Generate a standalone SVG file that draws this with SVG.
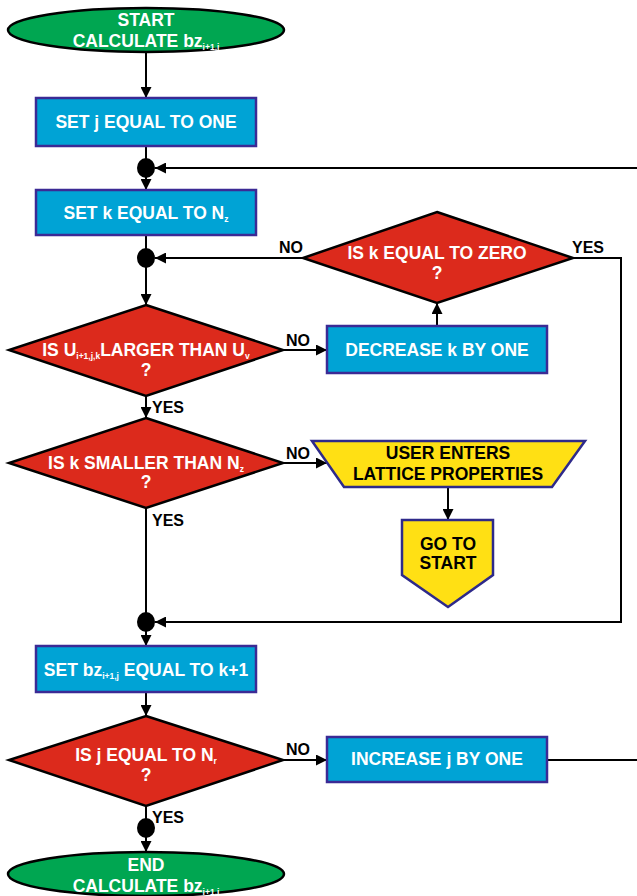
<svg xmlns="http://www.w3.org/2000/svg" width="637" height="896" viewBox="0 0 637 896">
  <defs>
    <marker id="arrow" viewBox="0 0 10 10" refX="10" refY="5" markerWidth="11" markerHeight="11" markerUnits="userSpaceOnUse" orient="auto">
      <path d="M0,0 L10,5 L0,10 z" fill="#000"/>
    </marker>
    <style>
      .term { fill: #00a651; stroke: #000; stroke-width: 2.5; }
      .proc { fill: #00a3d5; stroke: #3b2a95; stroke-width: 2.5; }
      .dec { fill: #dc2a1c; stroke: #000; stroke-width: 2.5; }
      .io { fill: #ffe014; stroke: #2e2a8a; stroke-width: 2.5; }
      .dot { fill: #000; }
      .wt { font-family: "Liberation Sans", Arial, sans-serif; font-weight: bold; font-size: 17.5px; fill: #fff; text-anchor: middle; }
      .bt { font-family: "Liberation Sans", Arial, sans-serif; font-weight: bold; font-size: 17.5px; fill: #000; text-anchor: middle; }
      .lbl { font-family: "Liberation Sans", Arial, sans-serif; font-weight: bold; font-size: 16px; fill: #000; }
      .sub { font-size: 8.5px; }
      .wire { fill: none; stroke: #000; stroke-width: 2; }
      .arr { fill: none; stroke: #000; stroke-width: 2; marker-end: url(#arrow); }
    </style>
  </defs>

  <!-- connectors -->
  <g id="connectors">
    <line class="arr" x1="146" y1="52" x2="146" y2="98"/>
    <line class="wire" x1="146" y1="146" x2="146" y2="160"/>
    <line class="arr" x1="637" y1="168" x2="155" y2="168"/>
    <line class="arr" x1="146" y1="176" x2="146" y2="190"/>
    <line class="wire" x1="146" y1="235" x2="146" y2="250"/>
    <line class="arr" x1="303" y1="258" x2="155" y2="258"/>
    <line class="arr" x1="146" y1="266" x2="146" y2="305"/>
    <line class="arr" x1="283" y1="350" x2="327" y2="350"/>
    <line class="arr" x1="437" y1="326" x2="437" y2="303"/>
    <line class="arr" x1="146" y1="396" x2="146" y2="418"/>
    <line class="arr" x1="283" y1="463" x2="327" y2="463"/>
    <line class="arr" x1="448" y1="487" x2="448" y2="520"/>
    <line class="wire" x1="146" y1="508" x2="146" y2="614"/>
    <polyline class="arr" points="573,258 621,258 621,622 155,622"/>
    <line class="arr" x1="146" y1="630" x2="146" y2="646"/>
    <line class="arr" x1="146" y1="692" x2="146" y2="716"/>
    <line class="arr" x1="283" y1="760" x2="327" y2="760"/>
    <line class="wire" x1="547" y1="760" x2="637" y2="760"/>
    <line class="wire" x1="146" y1="806" x2="146" y2="820"/>
    <line class="arr" x1="146" y1="836" x2="146" y2="852"/>

    <text class="lbl" x="279" y="253">NO</text>
    <text class="lbl" x="572" y="253">YES</text>
    <text class="lbl" x="286" y="346">NO</text>
    <text class="lbl" x="152" y="413">YES</text>
    <text class="lbl" x="286" y="459">NO</text>
    <text class="lbl" x="152" y="526">YES</text>
    <text class="lbl" x="286" y="755">NO</text>
    <text class="lbl" x="152" y="823">YES</text>
  </g>

  <!-- junction points -->
  <g id="junction1"><ellipse class="dot" cx="146" cy="168" rx="9" ry="10"/></g>
  <g id="junction2"><ellipse class="dot" cx="146" cy="258" rx="9" ry="10"/></g>
  <g id="junction3"><ellipse class="dot" cx="146" cy="622" rx="9" ry="10"/></g>
  <g id="junction4"><ellipse class="dot" cx="146" cy="828" rx="9" ry="10"/></g>

  <g id="start">
    <ellipse class="term" cx="146" cy="30" rx="138" ry="22"/>
    <text class="wt" x="146" y="26">START</text>
    <text class="wt" x="146" y="47">CALCULATE bz<tspan class="sub" dy="3">i+1,j</tspan></text>
  </g>

  <g id="set-j">
    <rect class="proc" x="36" y="98" width="220" height="48"/>
    <text class="wt" x="146" y="128">SET j EQUAL TO ONE</text>
  </g>

  <g id="set-k">
    <rect class="proc" x="36" y="190" width="220" height="45"/>
    <text class="wt" x="146" y="219">SET k EQUAL TO N<tspan class="sub" dy="3">z</tspan></text>
  </g>

  <g id="k-zero">
    <polygon class="dec" points="437,212 573,258 437,303 303,258"/>
    <text class="wt" x="437" y="259">IS k EQUAL TO ZERO</text>
    <text class="wt" x="437" y="279">?</text>
  </g>

  <g id="u-larger">
    <polygon class="dec" points="146,305 283,350 146,396 9,350"/>
    <text class="wt" x="146" y="356">IS U<tspan class="sub" dy="3">i+1,j,k</tspan><tspan dy="-3">LARGER THAN U</tspan><tspan class="sub" dy="3">v</tspan></text>
    <text class="wt" x="146" y="376">?</text>
  </g>

  <g id="decrease-k">
    <rect class="proc" x="327" y="326" width="220" height="47"/>
    <text class="wt" x="437" y="356">DECREASE k BY ONE</text>
  </g>

  <g id="k-smaller">
    <polygon class="dec" points="146,418 283,463 146,508 9,463"/>
    <text class="wt" x="146" y="469">IS k SMALLER THAN N<tspan class="sub" dy="3">z</tspan></text>
    <text class="wt" x="146" y="488">?</text>
  </g>

  <g id="user-input">
    <polygon class="io" points="312,441 585,441 552,487 344,487"/>
    <text class="bt" x="448" y="459">USER ENTERS</text>
    <text class="bt" x="448" y="480">LATTICE PROPERTIES</text>
  </g>

  <g id="goto-start">
    <polygon class="io" points="402,520 493,520 493,575 448,607 402,575"/>
    <text class="bt" x="448" y="550">GO TO</text>
    <text class="bt" x="448" y="569">START</text>
  </g>

  <g id="set-bz">
    <rect class="proc" x="36" y="646" width="220" height="46"/>
    <text class="wt" x="146" y="676">SET bz<tspan class="sub" dy="3">i+1,j</tspan><tspan dy="-3"> EQUAL TO k+1</tspan></text>
  </g>

  <g id="j-equal">
    <polygon class="dec" points="146,716 283,760 146,806 9,760"/>
    <text class="wt" x="146" y="761">IS j EQUAL TO N<tspan class="sub" dy="3">r</tspan></text>
    <text class="wt" x="146" y="781">?</text>
  </g>

  <g id="increase-j">
    <rect class="proc" x="327" y="737" width="220" height="45"/>
    <text class="wt" x="437" y="765">INCREASE j BY ONE</text>
  </g>

  <g id="end">
    <ellipse class="term" cx="146" cy="874" rx="138" ry="22"/>
    <text class="wt" x="146" y="871">END</text>
    <text class="wt" x="146" y="892">CALCULATE bz<tspan class="sub" dy="3">i+1,j</tspan></text>
  </g>
</svg>
